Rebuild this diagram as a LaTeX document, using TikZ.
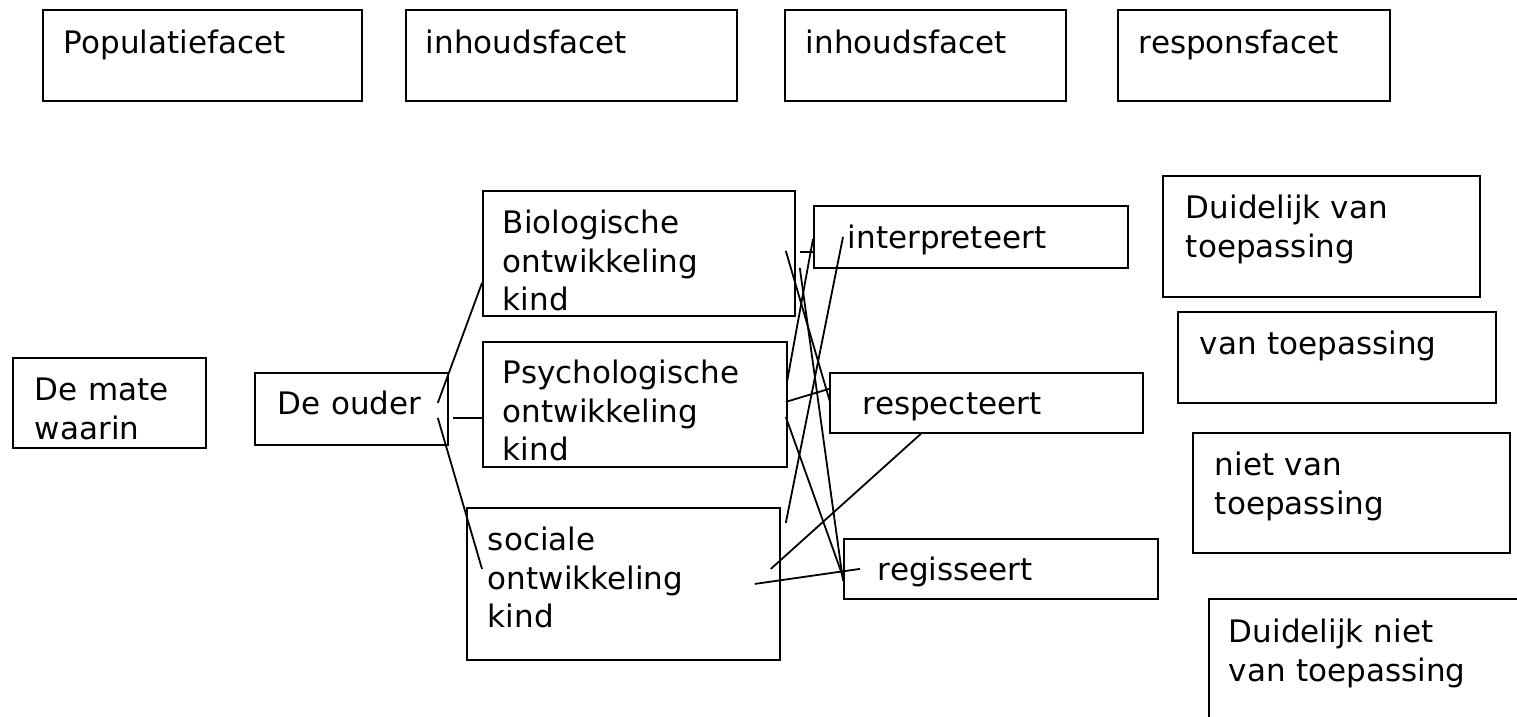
\documentclass[tikz,border=0pt]{standalone}
\usepackage{fontspec}
\setmainfont{DejaVu Sans}
\usetikzlibrary{calc}

\tikzset{
  facet/.style={draw, line width=1.8pt, anchor=north west, inner ysep=0pt, align=left,
    font=\fontsize{31pt}{38.5pt}\selectfont},
  boxpad/.style n args={4}{inner xsep=#1pt, text width=#2pt, text height=#3pt, text depth=#4pt},
  link/.style={line width=1.8pt},
}

\begin{document}
\begin{tikzpicture}[x=1pt,y=-1pt]
  \useasboundingbox (0,0) rectangle (1517,717);
  \clip (0,0) rectangle (1517,717);
  % Facet headings
  \node[facet,boxpad={21}{277}{44}{47}] (pop) at (42,9) {Populatiefacet};
  \node[facet,boxpad={20}{291}{44}{47}] (inhA) at (405,9) {inhoudsfacet};
  \node[facet,boxpad={21}{239}{44}{47}] (inhB) at (784,9) {inhoudsfacet};
  \node[facet,boxpad={21}{230}{44}{47}] (resp) at (1117,9) {responsfacet};
  % Population and content elements
  \node[facet,boxpad={22}{149}{43}{47}] (mate) at (12,357) {De mate\\waarin};
  \node[facet,boxpad={23}{147}{42}{30}] (ouder) at (254,372) {De ouder};
  \node[facet,boxpad={20}{272}{43}{82}] (bio) at (482,190) {Biologische\\ontwikkeling\\kind};
  \node[facet,boxpad={20}{264}{42}{83}] (psy) at (482,341) {Psychologische\\ontwikkeling\\kind};
  \node[facet,boxpad={21}{271}{43}{109}] (soc) at (466,507) {sociale\\ontwikkeling\\kind};
  \node[facet,boxpad={34}{246}{43}{19}] (interp) at (813,205) {interpreteert};
  \node[facet,boxpad={33}{247}{42}{18}] (respect) at (829,372) {respecteert};
  \node[facet,boxpad={34}{246}{42}{18}] (regis) at (843,538) {regisseert};
  % Response categories
  \node[facet,boxpad={23}{271}{43}{78}] (dvt) at (1162,175) {Duidelijk van\\toepassing};
  \node[facet,boxpad={22}{274}{43}{48}] (vt) at (1177,311) {van toepassing};
  \node[facet,boxpad={22}{273}{43}{77}] (nvt) at (1192,432) {niet van\\toepassing};
  \node[facet,boxpad={20}{290}{44}{96}] (dnvt) at (1208,598) {Duidelijk niet\\van toepassing};
  % Connectors
  \draw[link] ($(ouder.east)+(-11,-6)$) -- ($(bio.west)+(0,29.5)$);
  \draw[link] ($(ouder.east)+(4,9)$) -- ($(psy.west)+(0,13.5)$);
  \draw[link] ($(ouder.east)+(-11,9)$) -- ($(soc.west)+(16,-15)$);
  \draw[link] ($(bio.east)+(4,-1.5)$) -- ($(interp.west)+(0,15)$);
  \draw[link] ($(interp.west)+(0,2)$) -- ($(psy.east)+(-1,-21.5)$);
  \draw[link] ($(interp.west)+(30,0)$) -- ($(soc.east)+(5,-61)$);
  \draw[link] ($(bio.east)+(-10,-2.5)$) -- ($(respect.west)+(1,-1)$);
  \draw[link] ($(bio.east)+(4,14.5)$) -- ($(regis.west)+(0,12)$);
  \draw[link] ($(psy.east)+(-2,-2.5)$) -- ($(respect.west)+(0,-14)$);
  \draw[link] ($(psy.east)+(-2,12.5)$) -- ($(regis.west)+(0,8)$);
  \draw[link] ($(soc.east)+(-10,-15)$) -- ($(respect.south)+(-65.5,0)$);
  \draw[link] ($(soc.east)+(-26,0)$) -- ($(regis.west)+(17,0)$);
\end{tikzpicture}
\end{document}
